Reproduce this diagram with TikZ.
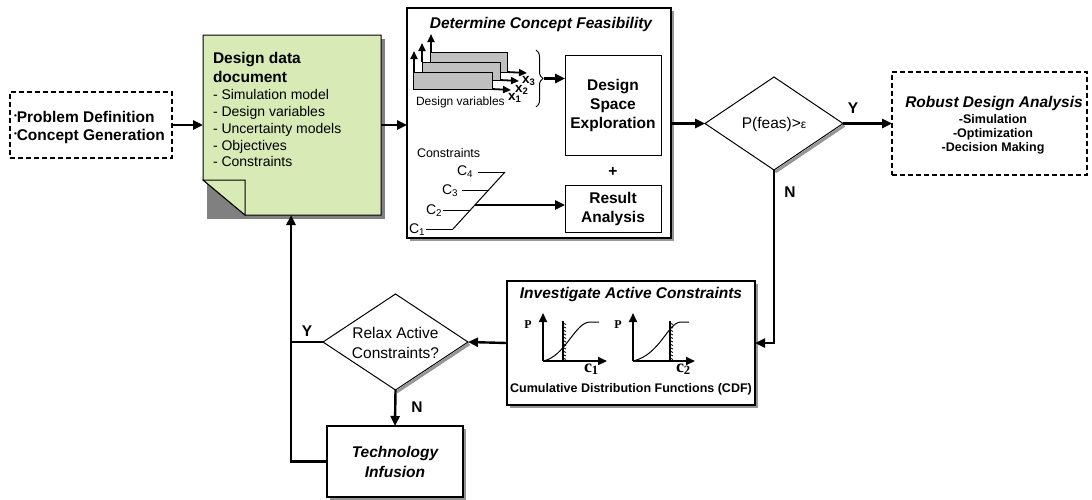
\documentclass[tikz,border=0pt]{standalone}
\usepackage{fontspec}
\setmainfont{Liberation Sans}
\newfontfamily\serifbf{Liberation Serif}
\usetikzlibrary{arrows.meta,shapes.geometric,decorations.pathreplacing,shadows}
\definecolor{docgreen}{RGB}{216,234,181}
\definecolor{docshade}{RGB}{128,128,128}
\definecolor{boxshade}{RGB}{150,150,150}
\definecolor{bargrey}{RGB}{192,192,192}
\tikzset{
  conn/.style={line width=2.4pt,-{Triangle[length=10pt,width=9pt]}},
  wire/.style={line width=2.4pt},
  smallarrow/.style={line width=1.8pt,-{Triangle[length=8pt,width=7pt]}},
  axisarrow/.style={line width=2pt,-{Triangle[length=9pt,width=8pt]}},
  box/.style={draw,line width=1.1pt,fill=white,inner sep=0pt,outer sep=0pt},
  sbox/.style={box,drop shadow={shadow xshift=3pt,shadow yshift=-3pt,fill=boxshade,opacity=1}},
  dashbox/.style={draw,line width=2pt,dash pattern=on 5pt off 3pt,inner sep=0pt,outer sep=0pt},
  dia/.style={diamond,draw,line width=1pt,fill=white,inner sep=0pt,outer sep=0pt},
  bigb/.style={font=\fontsize{15.5}{19}\selectfont\bfseries},
  bigbi/.style={font=\fontsize{15.5}{20}\selectfont\bfseries\itshape},
  bigr/.style={font=\fontsize{15.5}{20}\selectfont},
  medr/.style={font=\fontsize{14}{17}\selectfont},
  smallr/.style={font=\fontsize{12.5}{15}\selectfont},
  smallb/.style={font=\fontsize{12.5}{14}\selectfont\bfseries},
  xlab/.style={inner sep=0pt,outer sep=0pt,font=\fontsize{13.5}{13.5}\selectfont\bfseries,anchor=base west},
  txt/.style={inner sep=0pt,outer sep=0pt},
}
\begin{document}
\begin{tikzpicture}[x=1pt,y=-1pt]
\useasboundingbox (0,0) rectangle (1092,499);

% ---------- Problem definition ----------
\node[dashbox,minimum width=162pt,minimum height=66pt] (prob) at (91,125) {};
\node[txt,bigb,anchor=base west] (prob1) at (14,122) {\raisebox{4pt}{\fontsize{8}{8}\selectfont •}Problem Definition};
\node[txt,bigb,anchor=base west] (prob2) at (14,140) {\raisebox{4pt}{\fontsize{8}{8}\selectfont •}Concept Generation};

% ---------- Design data document ----------
\fill[docshade] (207,39) rectangle (385,219);
\draw[fill=docgreen,line width=1pt] (203,35) -- (381,35) -- (381,215) -- (245,215) -- (203,180) -- cycle;
\draw[fill=docgreen,line width=1pt] (203,180) -- (245,180) -- (245,215) -- cycle;
\node[txt,minimum width=178pt,minimum height=180pt] (doc) at (292,125) {};
\node[txt,bigb,anchor=base west] (doct1) at (213,63) {Design data};
\node[txt,bigb,anchor=base west] (doct2) at (213,82) {document};
\node[txt,medr,anchor=base west] (doci1) at (213,99) {- Simulation model};
\node[txt,medr,anchor=base west] (doci2) at (213,116) {- Design variables};
\node[txt,medr,anchor=base west] (doci3) at (213,133) {- Uncertainty models};
\node[txt,medr,anchor=base west] (doci4) at (213,150) {- Objectives};
\node[txt,medr,anchor=base west] (doci5) at (213,166) {- Constraints};

% ---------- Determine concept feasibility ----------
\node[sbox,minimum width=264pt,minimum height=230pt] (feas) at (539,123) {};
\node[txt,bigbi,anchor=base] (feast) at (541,28) {Determine Concept Feasibility};

% stacked design-variable bars
\draw[fill=bargrey,line width=1pt] (430,52) rectangle (507,72);
\draw[fill=bargrey,line width=1pt] (422,62) rectangle (500,80);
\draw[fill=bargrey,line width=1pt] (413,72) rectangle (492,89);
\draw[smallarrow] (431,52) -- (431,34);
\draw[smallarrow] (422,62) -- (422,43);
\draw[smallarrow] (414,72) -- (414,51);
\draw[smallarrow] (507,72) -- (527,73);
\draw[smallarrow] (500,80) -- (519,81);
\draw[smallarrow] (492,89) -- (511,90);
\node[xlab] (lx3) at (522,83) {x\textsubscript{3}};
\node[xlab] (lx2) at (515,92) {x\textsubscript{2}};
\node[xlab] (lx1) at (508,100) {x\textsubscript{1}};
\node[txt,font=\fontsize{12}{14}\selectfont,anchor=base west] (dvlab) at (416,105) {Design variables};
\draw[line width=1pt,decorate,decoration={brace,amplitude=7pt}] (536,50) -- (536,107);
\coordinate (bt) at (544,78.5);

\node[box,line width=1pt,bigb,align=center,minimum width=96pt,minimum height=100pt] (dse) at (613,105) {Design\\Space\\Exploration};
\node[txt,bigb] (plus) at (613,172) {+};
\node[box,line width=1pt,bigb,align=center,minimum width=96pt,minimum height=47pt] (res) at (613,208.5) {Result\\Analysis};
\draw[conn] (bt) -- (bt -| dse.west);

% constraints
\node[txt,smallr,anchor=base west] (conlab) at (417,157) {Constraints};
\draw[line width=1pt] (453,229) -- (505,172);
\draw[line width=1pt] (478,172) -- (505,172);
\draw[line width=1pt] (462,190) -- (488.6,190);
\draw[line width=1pt] (443,210) -- (470.3,210);
\draw[line width=1pt] (426,229) -- (453,229);
\node[txt,medr,anchor=base west] (c4) at (457,175) {C\textsubscript{4}};
\node[txt,medr,anchor=base west] (c3) at (442,194) {C\textsubscript{3}};
\node[txt,medr,anchor=base west] (c2) at (426,214) {C\textsubscript{2}};
\node[txt,medr,anchor=base west] (c1) at (409,233) {C\textsubscript{1}};
\coordinate (cd) at (474.9,205);
\draw[conn] (cd) -- (cd -| res.west);

% ---------- Decision P(feas) ----------
\node[dia,minimum width=138pt,minimum height=93pt] (d1) at (774,123.5) {};
\draw[boxshade,line width=3pt] ([shift={(1.3,1.9)}]d1.south) -- ([shift={(1.3,1.9)}]d1.east);
\node[txt,bigr] (d1t) at (774,124) {P(feas)>{\fontsize{12}{12}\selectfont ε}};
\node[txt,bigb] (ylab1) at (853,108) {Y};
\node[txt,bigb] (nlab1) at (790,192) {N};

% ---------- Robust design analysis ----------
\node[dashbox,minimum width=195pt,minimum height=103pt] (rob) at (989.5,123.5) {};
\node[txt,bigbi,anchor=base] (robt) at (994,107) {Robust Design Analysis};
\node[txt,smallb,anchor=base] (rob1) at (993,123) {-Simulation};
\node[txt,smallb,anchor=base] (rob2) at (993,137) {-Optimization};
\node[txt,smallb,anchor=base] (rob3) at (993,151) {-Decision Making};

% ---------- Investigate active constraints ----------
\node[sbox,minimum width=248pt,minimum height=124pt] (cdf) at (631,343) {};
\node[txt,bigbi,anchor=base] (cdft) at (631,298) {Investigate Active Constraints};
% plot 1
\draw[axisarrow] (543,361) -- (543,313);
\draw[axisarrow] (543,361) -- (607,361);
\draw[line width=1.3pt] (563,361) -- (563,321);
\foreach \yy in {323,326.5,...,358} \draw[line width=0.7pt] (563,\yy) -- (566,\yy+1.5);
\draw[line width=1pt] (543,361) .. controls (565,357) and (575,322) .. (590,322) -- (599,322);
\node[txt,font=\serifbf\fontsize{12}{12}\selectfont\bfseries] (p1) at (528,325) {P};
\node[txt,font=\serifbf\fontsize{18}{18}\selectfont\bfseries,anchor=base west] (cc1) at (584,372) {c\textsubscript{1}};
% plot 2
\draw[axisarrow] (633,361) -- (633,313);
\draw[axisarrow] (633,361) -- (695,361);
\draw[line width=1.3pt] (670,361) -- (670,321);
\foreach \yy in {323,326.5,...,358} \draw[line width=0.7pt] (670,\yy) -- (673,\yy+1.5);
\draw[line width=1pt] (633,361) .. controls (660,355) and (668,322) .. (681,322) -- (689,322);
\node[txt,font=\serifbf\fontsize{12}{12}\selectfont\bfseries] (p2) at (618,325) {P};
\node[txt,font=\serifbf\fontsize{18}{18}\selectfont\bfseries,anchor=base west] (cc2) at (676,372) {c\textsubscript{2}};
\node[txt,smallb,anchor=base] (cdfl) at (631,392) {Cumulative Distribution Functions (CDF)};

% ---------- Decision relax ----------
\node[dia,minimum width=145pt,minimum height=96pt] (d2) at (395.5,342) {};
\draw[boxshade,line width=3pt] ([shift={(1.2,1.9)}]d2.south) -- ([shift={(1.2,1.9)}]d2.east);
\node[txt,bigr,align=center] (d2t) at (395.5,343) {Relax Active\\Constraints?};
\node[txt,bigb] (ylab2) at (307,331) {Y};
\node[txt,bigb] (nlab2) at (417,407) {N};

% ---------- Technology infusion ----------
\node[sbox,bigbi,align=center,minimum width=136pt,minimum height=71pt] (tech) at (395,461.5) {Technology\\Infusion};

% ---------- connectors ----------
\coordinate (lx) at (291,462);
\draw[conn] (prob.east) -- (prob.east -| doc.west);
\draw[conn] (doc.east) -- (doc.east -| feas.west);
\draw[conn] (d1.west -| feas.east) -- (d1.west);
\draw[conn] (d1.east) -- (d1.east -| rob.west);
\draw[conn] (d1.south) |- (cdf.east);
\draw[conn] (cdf.west) -- (d2.east);
\draw[conn] (d2.south) -- (tech.north);
\draw[wire] (d2.west) -- (d2.west -| lx);
\draw[conn] (tech.west) -| (doc.south -| lx);
\end{tikzpicture}
\end{document}
